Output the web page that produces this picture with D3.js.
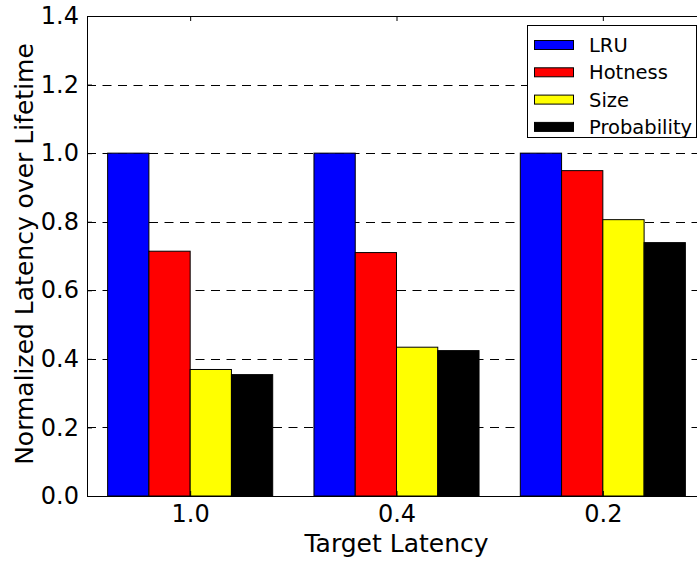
<!DOCTYPE html>
<html>
<head>
<meta charset="utf-8">
<script src="https://cdn.jsdelivr.net/npm/d3@7/dist/d3.min.js"></script>
<style>
  html, body { margin: 0; padding: 0; background: #fff; }
  svg { display: block; font-family: "DejaVu Sans", sans-serif; }
</style>
</head>
<body>
<svg id="chart" width="697" height="561"></svg>
<script>
// Target latency groups along the x axis
const categories = ["1.0", "0.4", "0.2"];
// Cache policies, one bar per policy in each group
const seriesNames = ["LRU", "Hotness", "Size", "Probability"];
const seriesColors = ["#0000ff", "#ff0000", "#ffff00", "#000000"];
// Normalized latency over lifetime, per policy
const lruValues = [1.0, 1.0, 1.0];
const hotnessValues = [0.714, 0.710, 0.949];
const sizeValues = [0.369, 0.434, 0.806];
const probabilityValues = [0.354, 0.424, 0.739];
const yTicks = [0.0, 0.2, 0.4, 0.6, 0.8, 1.0, 1.2, 1.4];

const seriesValues = [lruValues, hotnessValues, sizeValues, probabilityValues];
const barWidth = 0.2;

const svg = d3.select("#chart");
const plotLeft = 87, plotTop = 16, plotBottom = 496;

// x in group units: group i occupies [i, i + 0.8]
const x = d3.scaleLinear().domain([-0.1, 2.9]).range([plotLeft, 706]);
const y = d3.scaleLinear().domain([0, 1.4]).range([plotBottom, plotTop]);

// dashed horizontal grid
svg.append("g")
  .selectAll("line")
  .data(yTicks)
  .join("line")
  .attr("x1", plotLeft).attr("x2", 706)
  .attr("y1", d => Math.round(y(d)) + 0.5)
  .attr("y2", d => Math.round(y(d)) + 0.5)
  .attr("stroke", "#000")
  .attr("stroke-width", 1)
  .attr("stroke-dasharray", "9,6.5");

// bars
const bars = [];
seriesValues.forEach((vals, s) => {
  vals.forEach((v, i) => bars.push({ s, i, v }));
});
svg.append("g")
  .selectAll("rect")
  .data(bars)
  .join("rect")
  .attr("x", d => x(d.i + d.s * barWidth))
  .attr("width", d => x(d.i + (d.s + 1) * barWidth) - x(d.i + d.s * barWidth))
  .attr("y", d => y(d.v))
  .attr("height", d => y(0) - y(d.v))
  .attr("fill", d => seriesColors[d.s])
  .attr("stroke", "#000")
  .attr("stroke-width", 1);

// axes with inward ticks
const groupCenters = categories.map((c, i) => i + 0.4);
const xAxis = d3.axisBottom(x)
  .tickValues(groupCenters)
  .tickFormat((d, i) => categories[i])
  .tickSizeInner(-5).tickSizeOuter(0).tickPadding(9);
const gx = svg.append("g").attr("transform", `translate(0,${plotBottom})`).call(xAxis);

const xAxisTop = d3.axisTop(x)
  .tickValues(groupCenters)
  .tickFormat("")
  .tickSizeInner(-5).tickSizeOuter(0);
const gxt = svg.append("g").attr("transform", `translate(0,${plotTop})`).call(xAxisTop);

const yAxis = d3.axisLeft(y)
  .tickValues(yTicks)
  .tickFormat(d3.format(".1f"))
  .tickSizeInner(-5).tickSizeOuter(0).tickPadding(8);
const gy = svg.append("g").attr("transform", `translate(${plotLeft},0)`).call(yAxis);

[gx, gxt, gy].forEach(g => {
  g.select(".domain").attr("stroke", "#000").attr("stroke-width", 1);
  g.selectAll(".tick line").attr("stroke", "#000");
  g.selectAll(".tick text")
    .attr("fill", "#000")
    .style("font-family", "DejaVu Sans, sans-serif")
    .style("font-size", "24px");
});

// axis titles
svg.append("text")
  .attr("x", x(1.4)).attr("y", 552)
  .attr("text-anchor", "middle")
  .style("font-size", "25px")
  .text("Target Latency");

svg.append("text")
  .attr("transform", `translate(33,${(plotTop + plotBottom) / 2 - 2}) rotate(-90)`)
  .attr("text-anchor", "middle")
  .style("font-size", "25px")
  .text("Normalized Latency over Lifetime");

// legend
const legend = svg.append("g").attr("transform", "translate(527,25)");
legend.append("rect")
  .attr("x", 0.5).attr("y", 0.5)
  .attr("width", 169).attr("height", 112)
  .attr("fill", "#fff").attr("stroke", "#000").attr("stroke-width", 1);
const items = legend.selectAll("g.item")
  .data(seriesNames)
  .join("g")
  .attr("class", "item")
  .attr("transform", (d, i) => `translate(0,${20 + i * 27.3})`);
items.append("rect")
  .attr("x", 7.5).attr("y", -4.5)
  .attr("width", 39).attr("height", 9)
  .attr("fill", (d, i) => seriesColors[i])
  .attr("stroke", "#000").attr("stroke-width", 1);
items.append("text")
  .attr("x", 62).attr("y", 7)
  .style("font-size", "19.5px")
  .text(d => d);
</script>
</body>
</html>
